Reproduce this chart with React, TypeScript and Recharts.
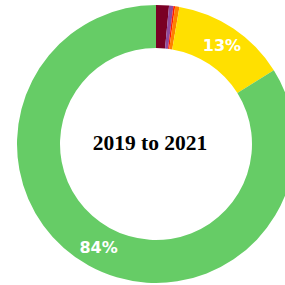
import { PieChart, Pie, Cell, Label } from "recharts";

const categories = ["A", "B", "C", "D", "E", "F"];
const values = [1.5, 0.5, 0.2, 0.5, 13.4, 83.9];
const sliceLabels = ["", "", "", "", "13%", "84%"];
const colors = ["#7a0025", "#8e4a9e", "#ff1a00", "#ff8000", "#ffe000", "#66cc66"];
const centerTitle = "2019 to 2021";

const data = categories.map((name, i) => ({ name, value: values[i], label: sliceLabels[i] }));

const RADIAN = Math.PI / 180;

function renderLabel(props: any) {
  const { cx, cy, midAngle, innerRadius, outerRadius, index } = props;
  const text = sliceLabels[index];
  if (!text) return null;
  const r = (innerRadius + outerRadius) / 2 + 1;
  const x = cx + r * Math.cos(-midAngle * RADIAN);
  const y = cy + r * Math.sin(-midAngle * RADIAN);
  return (
    <text
      x={x}
      y={y}
      fill="#ffffff"
      textAnchor="middle"
      dominantBaseline="central"
      fontFamily="DejaVu Sans"
      fontWeight="bold"
      fontSize={16}
    >
      {text}
    </text>
  );
}

// title sits a little left of the ring centre, like the original
function renderTitle() {
  return (
    <text
      x={150}
      y={143}
      fill="#000000"
      textAnchor="middle"
      dominantBaseline="central"
      fontFamily="Liberation Serif"
      fontWeight="bold"
      fontSize={21.5}
    >
      {centerTitle}
    </text>
  );
}

export default function App() {
  return (
    <div style={{ position: "absolute", left: 0, top: 0, width: 285, height: 285, background: "#fff" }}>
      <PieChart width={285} height={285} margin={{ top: 0, right: 0, bottom: 0, left: 0 }}>
        <Pie
          data={data}
          dataKey="value"
          cx={156}
          cy={144}
          innerRadius={96}
          outerRadius={139}
          startAngle={90}
          endAngle={-270}
          stroke="none"
          label={renderLabel}
          labelLine={false}
          isAnimationActive={false}
        >
          {data.map((d, i) => (
            <Cell key={d.name} fill={colors[i]} />
          ))}
          <Label position="center" content={renderTitle} />
        </Pie>
      </PieChart>
    </div>
  );
}
